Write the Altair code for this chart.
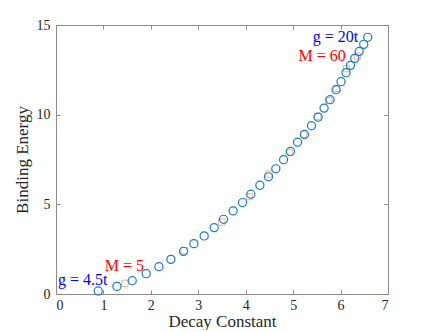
import altair as alt
import pandas as pd

# Blue circles (g series)
circ_x = [0.891, 1.285, 1.607, 1.902, 2.170, 2.423, 2.690, 2.907, 3.124, 3.335,
          3.533, 3.735, 3.933, 4.108, 4.298, 4.481, 4.635, 4.799, 4.944, 5.092,
          5.239, 5.387, 5.526, 5.652, 5.778, 5.905, 6.010, 6.115, 6.208, 6.299,
          6.393, 6.488, 6.573]
circ_y = [0.168, 0.424, 0.743, 1.134, 1.525, 1.932, 2.379, 2.809, 3.239, 3.702,
          4.166, 4.635, 5.099, 5.562, 6.065, 6.534, 6.981, 7.489, 7.950, 8.460,
          8.896, 9.382, 9.862, 10.365, 10.834, 11.392, 11.839, 12.342, 12.749, 13.140,
          13.531, 13.922, 14.313]

# Orange squares (M series, M = 5 ... 60)
sq_x = [1.454, 2.703, 3.497, 4.076, 4.493, 4.915, 5.220, 5.519, 5.751, 5.920, 6.124, 6.356]
sq_y = [0.592, 2.418, 4.010, 5.434, 6.690, 7.891, 8.913, 9.901, 10.795, 11.465, 12.565, 13.269]

# Annotations
ann_text = ["g = 4.5t", "M = 5", "g = 20t", "M = 60"]
ann_x = [0.04, 1.03, 6.37, 6.11]
ann_y = [0.80, 1.58, 14.33, 13.25]
ann_align = ["left", "left", "right", "right"]
ann_color = ["#0000ff", "#ff0000", "#0000ff", "#ff0000"]

x_ticks = [0, 1, 2, 3, 4, 5, 6, 7]
y_ticks = [0, 5, 10, 15]

FONT = "Liberation Serif"
BOX = "#8c8c8c"
TXT = "#262626"

circ = pd.DataFrame({"x": circ_x, "y": circ_y})
sq = pd.DataFrame({"x": sq_x, "y": sq_y})
ann = pd.DataFrame({"x": ann_x, "y": ann_y, "t": ann_text, "a": ann_align, "c": ann_color})

xs = alt.Scale(domain=[0, 7], nice=False, zero=False)
ys = alt.Scale(domain=[0, 15], nice=False, zero=False)

tick_axis = dict(grid=False, domain=False, tickSize=4, offset=-4, tickColor=BOX,
                 tickWidth=1, labelFont=FONT, labelFontSize=14, labelColor=TXT)
common_axis = dict(tick_axis, titleFont=FONT, titleFontSize=17,
                   titleFontWeight="normal", titleColor=TXT)

squares = alt.Chart(sq).mark_point(shape="square", size=40, strokeWidth=1,
                                   color="#D95319", opacity=0.45, filled=False).encode(
    x=alt.X("x:Q", scale=xs, axis=alt.Axis(orient="top", labels=False, title=None,
                                           values=x_ticks, **tick_axis)),
    y=alt.Y("y:Q", scale=ys, axis=alt.Axis(orient="right", labels=False, title=None,
                                           values=y_ticks, **tick_axis)),
)

circles = alt.Chart(circ).mark_point(shape="circle", size=66, strokeWidth=1.2,
                                     color="#1a7cc6", filled=False, opacity=1).encode(
    x=alt.X("x:Q", scale=xs, axis=alt.Axis(orient="bottom", title="Decay Constant",
                                           values=x_ticks, labelPadding=4, titlePadding=1,
                                           **common_axis)),
    y=alt.Y("y:Q", scale=ys, axis=alt.Axis(orient="left", title="Binding Energy",
                                           values=y_ticks, labelPadding=6, titlePadding=5,
                                           **common_axis)),
)

labels_left = alt.Chart(ann[ann.a == "left"]).mark_text(
    align="left", baseline="middle", font=FONT, fontSize=16).encode(
    x=alt.X("x:Q", scale=xs, axis=None),
    y=alt.Y("y:Q", scale=ys, axis=None),
    text="t:N",
    color=alt.Color("c:N", scale=None),
)
labels_right = alt.Chart(ann[ann.a == "right"]).mark_text(
    align="right", baseline="middle", font=FONT, fontSize=16).encode(
    x=alt.X("x:Q", scale=xs, axis=None),
    y=alt.Y("y:Q", scale=ys, axis=None),
    text="t:N",
    color=alt.Color("c:N", scale=None),
)

chart = alt.layer(squares, circles, labels_left, labels_right).resolve_axis(
    x="independent", y="independent"
).properties(
    width=332, height=269,
    autosize=alt.AutoSizeParams(type="none"),
    padding={"left": 48, "top": 17, "right": 33, "bottom": 36},
    background="white",
).configure_view(stroke=BOX, strokeWidth=1)

chart.save("out.html", embed_options={"renderer": "svg", "actions": False})
